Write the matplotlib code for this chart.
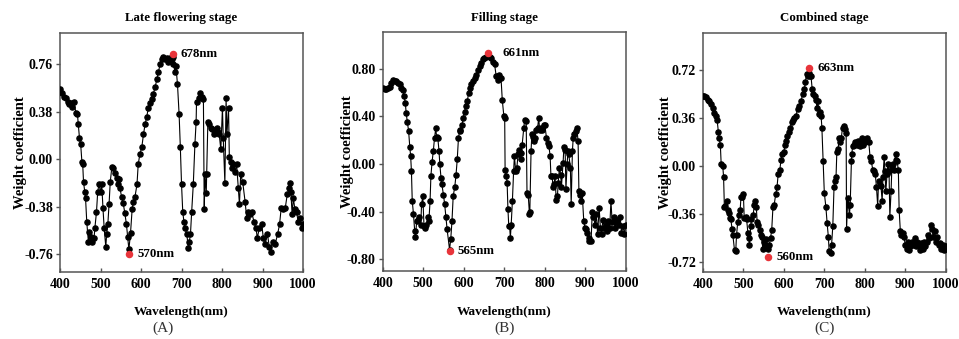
#!/usr/bin/env python3

#-----------------------------------------------------------------
# Weight coefficients of the three growth stages vs wavelength
#-----------------------------------------------------------------

import numpy as np
from matplotlib import pyplot as plt
from matplotlib.ticker import FormatStrFormatter
import matplotlib

params = {
    'font.family': 'serif',
    'font.serif': ['Liberation Serif', 'DejaVu Serif'],
    'font.size': 10,
    'font.weight': 'bold',
    'axes.linewidth': 1.1,
    'axes.edgecolor': '#555555',
    'xtick.labelsize': 10,
    'ytick.labelsize': 10,
    'figure.dpi': 100,
}
matplotlib.rcParams.update(params)

# ---------------- data ----------------
wl_late = [400, 406, 411, 415, 419, 423, 427, 430, 435, 439, 443, 445, 448, 451, 454, 456, 458, 461, 463, 466,
           470, 472, 476, 480, 484, 486, 490, 493, 496, 500, 503, 506, 509, 513, 515, 518, 521, 524, 528, 532,
           536, 540, 542, 546, 548, 552, 556, 560, 564, 567, 570, 574, 578, 581, 585, 590, 593, 597, 602, 606,
           610, 614, 618, 622, 626, 630, 635, 639, 643, 647, 651, 655, 659, 663, 667, 672, 676, 678, 680, 684,
           686, 690, 694, 697, 700, 703, 706, 709, 713, 717, 719, 722, 725, 729, 733, 736, 737, 742, 746, 750,
           754, 756, 758, 761, 762, 765, 769, 772, 776, 779, 783, 787, 791, 793, 797, 801, 803, 807, 810, 812,
           816, 818, 821, 824, 828, 832, 836, 840, 843, 846, 851, 857, 861, 865, 869, 873, 879, 884, 887, 892,
           898, 902, 906, 912, 917, 920, 925, 931, 937, 942, 946, 951, 956, 961, 966, 968, 970, 973, 976, 980,
           984, 988, 993, 997, 1000]
w_late = [0.56, 0.53, 0.50, 0.49, 0.46, 0.44, 0.45, 0.42, 0.46, 0.37, 0.36, 0.28, 0.17, 0.12, -0.02, -0.04, -0.18, -0.26, -0.31, -0.50,
          -0.66, -0.58, -0.62, -0.66, -0.63, -0.55, -0.42, -0.26, -0.20, -0.26, -0.20, -0.39, -0.55, -0.70, -0.60, -0.52, -0.36, -0.18, -0.06, -0.07,
          -0.11, -0.15, -0.20, -0.16, -0.23, -0.30, -0.35, -0.43, -0.52, -0.62, -0.72, -0.59, -0.40, -0.34, -0.30, -0.20, -0.04, 0.04, 0.10, 0.20,
          0.28, 0.34, 0.41, 0.45, 0.48, 0.52, 0.58, 0.64, 0.70, 0.76, 0.80, 0.82, 0.80, 0.81, 0.78, 0.81, 0.80, 0.82, 0.76, 0.70,
          0.75, 0.60, 0.36, 0.10, -0.20, -0.42, -0.50, -0.55, -0.60, -0.71, -0.66, -0.60, -0.42, -0.20, 0.12, 0.30, 0.46, 0.49, 0.53, 0.50,
          0.48, -0.40, -0.12, -0.27, -0.12, 0.30, 0.28, 0.25, 0.24, 0.20, 0.22, 0.25, 0.22, 0.20, 0.08, 0.41, 0.17, -0.19, 0.49, 0.20,
          0.41, 0.02, -0.02, -0.07, -0.04, -0.10, -0.04, -0.23, -0.36, -0.12, -0.18, -0.34, -0.47, -0.42, -0.44, -0.42, -0.50, -0.55, -0.63, -0.55,
          -0.52, -0.63, -0.68, -0.60, -0.70, -0.74, -0.66, -0.68, -0.60, -0.52, -0.39, -0.40, -0.39, -0.28, -0.23, -0.19, -0.26, -0.44, -0.31, -0.40,
          -0.42, -0.50, -0.47, -0.55, -0.52]

wl_fill = [401, 405, 409, 413, 417, 421, 425, 430, 434, 438, 442, 446, 450, 453, 456, 458, 461, 464, 467, 469,
           471, 473, 476, 479, 481, 484, 487, 490, 494, 496, 499, 502, 505, 508, 512, 514, 517, 519, 522, 525,
           528, 531, 533, 536, 539, 541, 544, 546, 550, 553, 556, 559, 565, 568, 571, 574, 578, 581, 584, 587,
           590, 592, 596, 599, 602, 605, 609, 612, 615, 619, 623, 627, 631, 635, 639, 643, 647, 651, 656, 661,
           664, 668, 672, 676, 680, 684, 688, 692, 695, 699, 701, 702, 705, 707, 709, 711, 713, 715, 717, 720,
           723, 725, 728, 731, 734, 736, 740, 742, 744, 748, 750, 754, 756, 759, 762, 763, 766, 768, 771, 773,
           776, 779, 782, 785, 787, 790, 794, 797, 800, 804, 807, 810, 813, 815, 818, 820, 823, 825, 828, 831,
           833, 836, 839, 841, 845, 847, 850, 852, 855, 857, 859, 863, 865, 868, 870, 873, 876, 879, 882, 884,
           887, 890, 892, 896, 899, 902, 905, 908, 910, 914, 917, 920, 924, 927, 930, 934, 937, 940, 943, 947,
           950, 953, 956, 960, 963, 966, 970, 973, 976, 979, 983, 986, 989, 993, 996, 1000]
w_fill = [0.64, 0.63, 0.63, 0.64, 0.65, 0.68, 0.71, 0.70, 0.70, 0.68, 0.67, 0.64, 0.62, 0.57, 0.51, 0.43, 0.35, 0.28, 0.14, 0.07,
          -0.06, -0.31, -0.42, -0.56, -0.61, -0.48, -0.47, -0.45, -0.51, -0.34, -0.27, -0.52, -0.54, -0.51, -0.45, -0.48, -0.31, -0.10, 0.02, 0.11,
          0.22, 0.30, 0.23, 0.22, 0.11, 0.00, -0.12, -0.17, -0.26, -0.34, -0.45, -0.55, -0.72, -0.63, -0.48, -0.27, -0.19, -0.09, 0.04, 0.22,
          0.28, 0.29, 0.33, 0.39, 0.44, 0.49, 0.53, 0.60, 0.64, 0.67, 0.70, 0.72, 0.75, 0.79, 0.82, 0.85, 0.88, 0.89, 0.90, 0.92,
          0.90, 0.89, 0.86, 0.84, 0.74, 0.71, 0.75, 0.72, 0.54, 0.40, 0.39, -0.05, -0.10, -0.16, -0.38, -0.52, -0.52, -0.62, -0.51, -0.31,
          -0.06, 0.07, -0.06, -0.03, 0.08, 0.12, 0.04, 0.09, 0.16, 0.30, 0.37, 0.36, -0.24, -0.26, -0.42, -0.40, 0.11, 0.25, 0.23, 0.19,
          0.22, 0.29, 0.30, 0.39, 0.29, 0.30, 0.29, 0.33, 0.33, 0.22, 0.18, 0.15, 0.07, -0.10, -0.10, -0.19, -0.17, -0.10, -0.30, -0.27,
          -0.16, -0.03, -0.09, -0.19, 0.01, 0.14, 0.12, -0.21, 0.00, 0.11, 0.08, -0.03, -0.34, 0.11, 0.22, 0.25, 0.28, 0.30, 0.19, -0.23,
          -0.26, -0.31, -0.24, -0.48, -0.54, -0.55, -0.58, -0.65, -0.62, -0.65, -0.40, -0.45, -0.51, -0.42, -0.59, -0.37, -0.54, -0.59, -0.47, -0.54,
          -0.51, -0.56, -0.48, -0.54, -0.31, -0.49, -0.45, -0.54, -0.49, -0.47, -0.51, -0.45, -0.58, -0.52, -0.59, -0.51]

wl_comb = [400, 403, 408, 412, 416, 420, 424, 428, 432, 435, 438, 440, 443, 445, 449, 451, 453, 455, 459, 461,
           464, 466, 469, 472, 474, 478, 481, 483, 486, 489, 492, 494, 497, 500, 502, 506, 508, 511, 513, 515,
           518, 520, 524, 527, 529, 532, 534, 537, 540, 543, 545, 548, 550, 553, 556, 558, 560, 564, 567, 570,
           573, 576, 580, 583, 586, 590, 593, 596, 600, 603, 606, 609, 613, 616, 619, 623, 626, 630, 634, 638,
           642, 647, 651, 653, 656, 659, 663, 665, 667, 670, 673, 676, 679, 682, 684, 687, 689, 692, 694, 697,
           700, 704, 707, 710, 712, 716, 718, 721, 724, 726, 729, 731, 734, 737, 740, 742, 745, 748, 751, 754,
           755, 758, 760, 762, 764, 767, 768, 770, 773, 777, 780, 783, 787, 790, 793, 796, 800, 803, 806, 810,
           813, 816, 820, 823, 826, 829, 832, 834, 838, 840, 843, 845, 848, 850, 852, 855, 857, 860, 862, 865,
           867, 870, 872, 876, 878, 880, 883, 885, 888, 890, 894, 897, 900, 904, 907, 910, 913, 917, 920, 923,
           927, 930, 933, 937, 940, 943, 946, 950, 953, 956, 960, 963, 966, 969, 973, 976, 979, 983, 986, 989,
           993, 996, 1000]
w_comb = [0.53, 0.53, 0.52, 0.50, 0.49, 0.47, 0.44, 0.40, 0.38, 0.35, 0.26, 0.21, 0.16, 0.02, 0.00, -0.08, -0.31, -0.30, -0.26, -0.33,
          -0.35, -0.39, -0.40, -0.47, -0.52, -0.63, -0.64, -0.52, -0.42, -0.37, -0.33, -0.23, -0.23, -0.21, -0.39, -0.38, -0.40, -0.50, -0.54, -0.59,
          -0.45, -0.40, -0.37, -0.29, -0.26, -0.31, -0.42, -0.44, -0.48, -0.52, -0.53, -0.62, -0.57, -0.59, -0.55, -0.60, -0.62, -0.59, -0.54, -0.48,
          -0.31, -0.29, -0.21, -0.16, -0.06, -0.03, 0.05, 0.09, 0.11, 0.16, 0.19, 0.23, 0.26, 0.29, 0.33, 0.35, 0.36, 0.38, 0.43, 0.45,
          0.49, 0.54, 0.58, 0.63, 0.69, 0.68, 0.70, 0.68, 0.68, 0.58, 0.54, 0.53, 0.50, 0.44, 0.49, 0.39, 0.41, 0.38, 0.29, 0.04,
          -0.20, -0.31, -0.43, -0.53, -0.64, -0.65, -0.59, -0.45, -0.16, -0.11, -0.08, 0.11, 0.13, 0.21, 0.18, 0.21, 0.29, 0.30, 0.28, 0.25,
          -0.47, -0.24, -0.29, -0.37, -0.29, 0.04, 0.09, 0.15, 0.16, 0.18, 0.16, 0.19, 0.15, 0.18, 0.21, 0.16, 0.18, 0.20, 0.21, 0.18,
          0.07, 0.04, -0.03, -0.04, -0.06, -0.16, -0.30, -0.11, -0.14, -0.15, -0.26, -0.08, 0.07, -0.04, -0.19, -0.06, 0.02, -0.04, -0.38, -0.19,
          -0.01, 0.02, -0.03, 0.09, 0.05, 0.04, -0.03, -0.33, -0.49, -0.52, -0.50, -0.53, -0.59, -0.62, -0.57, -0.63, -0.60, -0.57, -0.59, -0.54,
          -0.60, -0.57, -0.59, -0.63, -0.58, -0.62, -0.57, -0.60, -0.57, -0.52, -0.54, -0.44, -0.47, -0.53, -0.49, -0.57, -0.53, -0.59, -0.58, -0.62,
          -0.59, -0.63, -0.60]

# characteristic wavelengths (red points)
key_wl = [[678, 570], [661, 565], [663, 560]]
key_w = [[0.84, -0.76], [0.93, -0.73], [0.74, -0.68]]

titles = ["Late flowering stage", "Filling stage", "Combined stage"]
panel_tags = ["(A)", "(B)", "(C)"]
yticks = [[-0.76, -0.38, 0.0, 0.38, 0.76],
          [-0.80, -0.40, 0.0, 0.40, 0.80],
          [-0.72, -0.36, 0.0, 0.36, 0.72]]
xticks = [400, 500, 600, 700, 800, 900, 1000]

series = [(wl_late, w_late), (wl_fill, w_fill), (wl_comb, w_comb)]
for x, y in series:
    assert len(x) == len(y), (len(x), len(y))

# ---------------- layout ----------------
fig = plt.figure(figsize=(9.59, 3.39))
boxes = [[0.0626, 0.1976, 0.2534, 0.705],
         [0.3990, 0.2006, 0.2537, 0.705],
         [0.7330, 0.1976, 0.2531, 0.705]]
ylims = [(-0.90, 1.01), (-0.90, 1.11), (-0.795, 1.0)]
ylabel_x = [21 / 959, 347 / 959, 665 / 959]
tag_x = [163 / 959, 505 / 959, 825 / 959]

for i, ((x, y), box) in enumerate(zip(series, boxes)):
    ax = fig.add_axes(box)
    ax.plot(x, y, '-o', c='k', lw=0.8, ms=3.7, mec='k', mfc='k', zorder=3)
    ax.plot(key_wl[i], key_w[i], 'o', c='#e8343a', ms=4.4, zorder=5)

    # wavelength labels next to the red points
    for kx, ky in zip(key_wl[i], key_w[i]):
        dx = 10 if (i == 1 and ky > 0) else 6
        ax.annotate("%dnm" % kx, (kx, ky), xytext=(dx, 0), textcoords='offset points',
                    ha='left', va='center', fontsize=9.3, fontweight='bold', zorder=6)

    ax.set_xlim(400, 1000)
    ax.set_ylim(*ylims[i])
    ax.set_xticks(xticks)
    ax.set_yticks(yticks[i])
    ax.yaxis.set_major_formatter(FormatStrFormatter('%.2f'))
    ax.tick_params(axis='x', direction='in', length=3, width=1, color='#555555', pad=4)
    ax.tick_params(axis='y', direction='out', length=3, width=1, color='#555555', pad=2)

    cx = box[0] + box[2] / 2
    fig.text(cx, 0.947, titles[i], ha='center', va='center', fontsize=9.3, fontweight='bold')
    fig.text(cx, 0.080, "Wavelength(nm)", ha='center', va='center', fontsize=9.5, fontweight='bold')
    fig.text(ylabel_x[i], box[1] + box[3] / 2, "Weight coefficient", rotation=90,
             ha='center', va='center', fontsize=10.5, fontweight='bold')
    fig.text(tag_x[i], 0.032, panel_tags[i], ha='center', va='center', fontsize=11,
             fontweight='normal', color='#333333')

#  plt.show()
plt.savefig("out.png", dpi=100)
